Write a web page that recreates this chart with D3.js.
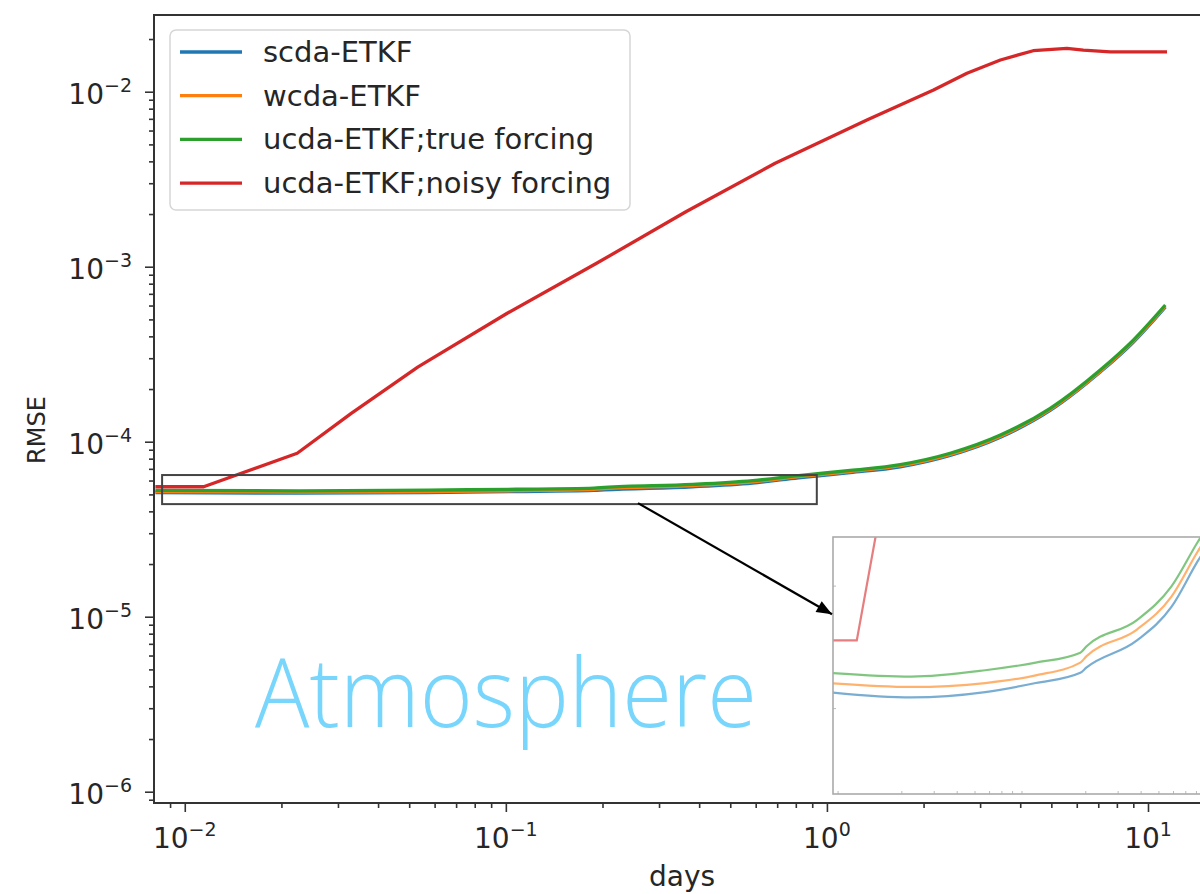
<!DOCTYPE html>
<html>

<head>
    <meta charset="UTF-8">
    <style>
        body { margin: 0; background: #fff; }
        svg { display: block; }
        text { font-family: "DejaVu Sans", sans-serif; fill: #262626; }
    </style>
</head>

<body>
    <div class="chart"><svg></svg></div>
    <script src="https://d3js.org/d3.v7.min.js"></script>

    <script>

        // data (days vs RMSE)
        const days = [0.0081, 0.0227, 0.0572, 0.1076, 0.188, 0.2027, 0.382, 0.587, 0.816,
            1.182, 1.692, 2.42, 3.47, 4.96, 7.10, 9.0, 11.32];
        const scdaETKF = [5.12e-5, 5.08e-5, 5.12e-5, 5.19e-5, 5.27e-5, 5.31e-5, 5.53e-5, 5.81e-5, 6.22e-5,
            6.66e-5, 7.19e-5, 8.35e-5, 1.061e-4, 1.509e-4, 2.50e-4, 3.70e-4, 5.87e-4];
        const wcdaETKF = [5.19e-5, 5.16e-5, 5.19e-5, 5.25e-5, 5.35e-5, 5.40e-5, 5.62e-5, 5.90e-5, 6.31e-5,
            6.75e-5, 7.29e-5, 8.46e-5, 1.076e-4, 1.529e-4, 2.53e-4, 3.75e-4, 5.95e-4];
        const ucdaTrue = [5.27e-5, 5.24e-5, 5.29e-5, 5.35e-5, 5.43e-5, 5.48e-5, 5.70e-5, 5.99e-5, 6.40e-5,
            6.85e-5, 7.40e-5, 8.59e-5, 1.092e-4, 1.552e-4, 2.57e-4, 3.81e-4, 6.04e-4];

        const noisyDays = [0.0081, 0.01145, 0.0224, 0.0330, 0.0533, 0.101, 0.1917, 0.3637, 0.690,
            1.332, 2.148, 2.73, 3.47, 4.39, 5.59, 6.29, 7.63, 11.46];
        const ucdaNoisy = [5.53e-5, 5.53e-5, 8.59e-5, 1.453e-4, 2.68e-4, 5.42e-4, 1.046e-3, 2.06e-3, 3.90e-3,
            6.89e-3, 1.023e-2, 1.274e-2, 1.518e-2, 1.715e-2, 1.77e-2, 1.73e-2, 1.69e-2, 1.69e-2];

        const labels = ["scda-ETKF", "wcda-ETKF", "ucda-ETKF;true forcing", "ucda-ETKF;noisy forcing"];
        const colors = ["#1f77b4", "#ff7f0e", "#2ca02c", "#d62728"];

        const xTicks = [-2, -1, 0, 1];        // exponents
        const yTicks = [-6, -5, -4, -3, -2];

        // zoomed region shown in the inset
        const zoomX = [0.0085, 0.93];
        const zoomY = [4.4e-5, 6.45e-5];

        let width = 1200, height = 894;

        let svg = d3.select("svg")
            .attr("width", width)
            .attr("height", height)
            .attr("viewBox", "0 0 " + width + " " + height);

        const m = { left: 154, right: 1210, top: 15, bottom: 803 };

        const x = d3.scaleLog().domain([0.00802, 15.6]).range([m.left, m.right]);
        const y = d3.scaleLog().domain([8.62e-7, 0.02744]).range([m.bottom, m.top]);

        const series = [
            { name: labels[0], xs: days, ys: scdaETKF, color: colors[0] },
            { name: labels[1], xs: days, ys: wcdaETKF, color: colors[1] },
            { name: labels[2], xs: days, ys: ucdaTrue, color: colors[2] },
            { name: labels[3], xs: noisyDays, ys: ucdaNoisy, color: colors[3] }
        ];

        function minorVals(lo, hi) {
            let out = [];
            for (let e = -8; e <= 2; e++) {
                for (let k = 2; k <= 9; k++) {
                    let v = k * Math.pow(10, e);
                    if (v >= lo && v <= hi) out.push(v);
                }
            }
            return out;
        }

        svg.append("defs").append("clipPath").attr("id", "clipMain")
            .append("rect")
            .attr("x", m.left).attr("y", m.top)
            .attr("width", m.right - m.left).attr("height", m.bottom - m.top);

        // lines (red one has sharp corners, so keep it linear)
        const lineG = svg.append("g").attr("clip-path", "url(#clipMain)");
        series.forEach((s, i) => {
            const line = d3.line()
                .x(d => x(d[0]))
                .y(d => y(d[1]))
                .curve(i == 3 ? d3.curveLinear : d3.curveMonotoneX);
            lineG.append("path")
                .datum(d3.zip(s.xs, s.ys))
                .attr("d", line)
                .attr("fill", "none")
                .attr("stroke", s.color)
                .attr("stroke-width", 3.3)
                .attr("stroke-linejoin", "round");
        });

        // spines
        svg.append("rect")
            .attr("x", m.left).attr("y", m.top)
            .attr("width", m.right - m.left).attr("height", m.bottom - m.top)
            .attr("fill", "none")
            .attr("stroke", "#333")
            .attr("stroke-width", 2);

        // x axis ticks
        const xAxisG = svg.append("g").attr("transform", "translate(0," + m.bottom + ")");
        xAxisG.append("g")
            .call(d3.axisBottom(x).tickValues(minorVals(0.00802, 15.6)).tickSize(5).tickSizeOuter(0).tickFormat(""))
            .call(g => g.select(".domain").remove());
        xAxisG.append("g")
            .call(d3.axisBottom(x).tickValues(xTicks.map(e => Math.pow(10, e))).tickSize(9).tickSizeOuter(0).tickFormat(""))
            .call(g => g.select(".domain").remove());
        xAxisG.selectAll("line").attr("stroke", "#333").attr("stroke-width", 1.6);

        xTicks.forEach(e => {
            let t = svg.append("text")
                .attr("x", x(Math.pow(10, e)))
                .attr("y", 848)
                .attr("text-anchor", "middle")
                .style("font-size", "28px");
            t.append("tspan").text("10");
            t.append("tspan").attr("dy", -12).style("font-size", "19px")
                .text(e < 0 ? "\u2212" + (-e) : String(e));
        });

        // y axis ticks
        const yAxisG = svg.append("g").attr("transform", "translate(" + m.left + ",0)");
        yAxisG.append("g")
            .call(d3.axisLeft(y).tickValues(minorVals(8.62e-7, 0.02744)).tickSize(5).tickSizeOuter(0).tickFormat(""))
            .call(g => g.select(".domain").remove());
        yAxisG.append("g")
            .call(d3.axisLeft(y).tickValues(yTicks.map(e => Math.pow(10, e))).tickSize(9).tickSizeOuter(0).tickFormat(""))
            .call(g => g.select(".domain").remove());
        yAxisG.selectAll("line").attr("stroke", "#333").attr("stroke-width", 1.6);

        yTicks.forEach(e => {
            let t = svg.append("text")
                .attr("x", 132)
                .attr("y", y(Math.pow(10, e)) + 12)
                .attr("text-anchor", "end")
                .style("font-size", "28px");
            t.append("tspan").text("10");
            t.append("tspan").attr("dy", -12).style("font-size", "19px").text("\u2212" + (-e));
        });

        // axis labels
        svg.append("text")
            .attr("x", (m.left + m.right) / 2)
            .attr("y", 886)
            .attr("text-anchor", "middle")
            .style("font-size", "28px")
            .text("days");

        svg.append("text")
            .attr("transform", "translate(45," + 430 + ") rotate(-90)")
            .attr("text-anchor", "middle")
            .style("font-size", "24px")
            .text("RMSE");

        // zoom rectangle on main axes
        svg.append("rect")
            .attr("x", x(zoomX[0])).attr("y", y(zoomY[1]))
            .attr("width", x(zoomX[1]) - x(zoomX[0]))
            .attr("height", y(zoomY[0]) - y(zoomY[1]))
            .attr("fill", "none")
            .attr("stroke", "#444")
            .attr("stroke-width", 2);

        // inset
        const ins = { left: 833, right: 1208, top: 537, bottom: 794 };
        const xi = d3.scaleLog().domain(zoomX).range([ins.left, ins.right]);
        const yi = d3.scaleLog().domain(zoomY).range([ins.bottom, ins.top]);

        svg.select("defs").append("clipPath").attr("id", "clipInset")
            .append("rect")
            .attr("x", ins.left).attr("y", ins.top)
            .attr("width", ins.right - ins.left).attr("height", ins.bottom - ins.top);

        svg.append("rect")
            .attr("x", ins.left).attr("y", ins.top)
            .attr("width", ins.right - ins.left).attr("height", ins.bottom - ins.top)
            .attr("fill", "#fff");

        const insG = svg.append("g").attr("clip-path", "url(#clipInset)");
        series.forEach((s, i) => {
            const line = d3.line()
                .x(d => xi(d[0]))
                .y(d => yi(d[1]))
                .curve(i == 3 ? d3.curveLinear : d3.curveMonotoneX);
            insG.append("path")
                .datum(d3.zip(s.xs, s.ys))
                .attr("d", line)
                .attr("fill", "none")
                .attr("stroke", s.color)
                .attr("stroke-opacity", 0.6)
                .attr("stroke-width", 2.2);
        });

        // faint inset ticks
        const insX = svg.append("g").attr("transform", "translate(0," + ins.bottom + ")");
        insX.call(d3.axisTop(xi).tickValues(minorVals(zoomX[0], zoomX[1])).tickSize(3).tickSizeOuter(0).tickFormat(""))
            .call(g => g.select(".domain").remove());
        insX.selectAll("line").attr("stroke", "#bbb");
        const insY = svg.append("g").attr("transform", "translate(" + ins.left + ",0)");
        insY.call(d3.axisRight(yi).tickValues(minorVals(zoomY[0], zoomY[1])).tickSize(3).tickSizeOuter(0).tickFormat(""))
            .call(g => g.select(".domain").remove());
        insY.selectAll("line").attr("stroke", "#bbb");

        svg.append("rect")
            .attr("x", ins.left).attr("y", ins.top)
            .attr("width", ins.right - ins.left).attr("height", ins.bottom - ins.top)
            .attr("fill", "none")
            .attr("stroke", "#aaa")
            .attr("stroke-width", 1.6);

        // arrow from zoom rect to inset
        svg.select("defs").append("marker")
            .attr("id", "arrowHead")
            .attr("viewBox", "0 0 10 10")
            .attr("refX", 10).attr("refY", 5)
            .attr("markerWidth", 12).attr("markerHeight", 7)
            .attr("markerUnits", "strokeWidth")
            .attr("orient", "auto")
            .append("path")
            .attr("d", "M0,1 L10,5 L0,9 z")
            .attr("fill", "#000");

        svg.append("line")
            .attr("x1", x(0.258)).attr("y1", y(zoomY[0]) - 1)
            .attr("x2", ins.left - 1).attr("y2", yi(5.75e-5))
            .attr("stroke", "#000")
            .attr("stroke-width", 2.2)
            .attr("marker-end", "url(#arrowHead)");

        // legend
        const lg = svg.append("g").attr("class", "legend");
        lg.append("rect")
            .attr("x", 170).attr("y", 30)
            .attr("width", 460).attr("height", 180)
            .attr("rx", 6)
            .attr("fill", "#fff").attr("fill-opacity", 0.85)
            .attr("stroke", "#d6d6d6").attr("stroke-width", 1.5);

        series.forEach((s, i) => {
            const cy = 52 + i * 43.7;
            lg.append("line")
                .attr("x1", 180).attr("x2", 242)
                .attr("y1", cy).attr("y2", cy)
                .attr("stroke", s.color)
                .attr("stroke-width", 3.3);
            lg.append("text")
                .attr("x", 263).attr("y", cy + 10)
                .style("font-size", "29px")
                .text(s.name);
        });

        // panel label
        svg.append("text")
            .attr("x", 255).attr("y", 727)
            .attr("textLength", 502)
            .attr("lengthAdjust", "spacingAndGlyphs")
            .style("font-family", "'Open Sans', Lato, sans-serif")
            .style("font-weight", 300)
            .style("font-size", "96px")
            .style("fill", "#78d5fc")
            .text("Atmosphere");

    </script>

</body>

</html>
